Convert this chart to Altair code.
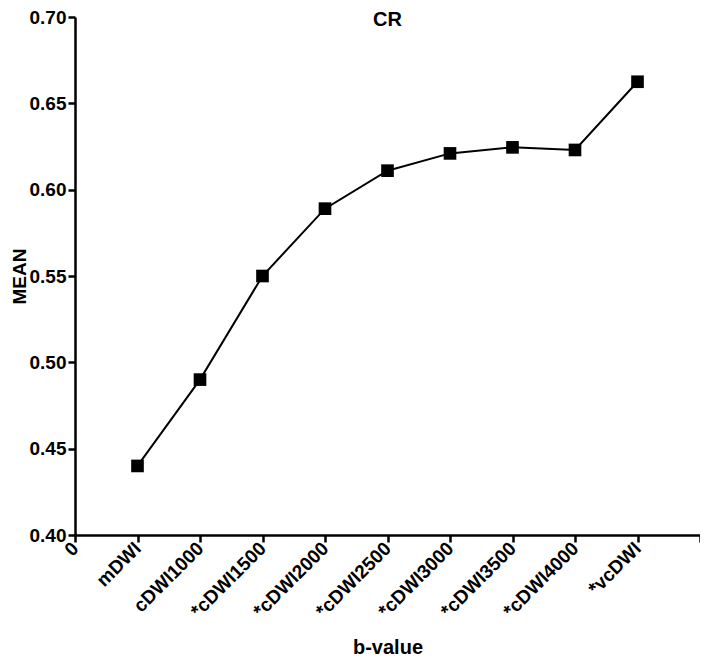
import altair as alt
import pandas as pd

categories = ["mDWI", "cDWI1000", "*cDWI1500", "*cDWI2000", "*cDWI2500",
              "*cDWI3000", "*cDWI3500", "*cDWI4000", "*vcDWI"]
positions = [1, 2, 3, 4, 5, 6, 7, 8, 9]
means = [0.440, 0.490, 0.550, 0.589, 0.611, 0.621, 0.6245, 0.623, 0.6625]
tick_labels = ["0"] + categories + [""]

df = pd.DataFrame({"pos": positions, "cat": categories, "mean": means})

label_js = "[" + ",".join('"%s"' % t for t in tick_labels) + "]"

FONT = "Liberation Sans"

x = alt.X("pos:Q", title="b-value",
          scale=alt.Scale(domain=[0, 10], nice=False, zero=False),
          axis=alt.Axis(values=list(range(11)),
                        labelExpr=label_js + "[datum.value]",
                        labelAngle=-45, labelAlign="right", labelBaseline="middle",
                        labelOverlap=False, labelBound=False, labelFlush=False,
                        labelFontSize=19,
                        labelPadding=3, titlePadding=17, grid=False, ticks=True,
                        tickSize=7, tickWidth=2.5, domainWidth=2.5,
                        domainColor="black", tickColor="black"))
y = alt.Y("mean:Q", title="MEAN",
          scale=alt.Scale(domain=[0.40, 0.70], nice=False, zero=False),
          axis=alt.Axis(values=[0.40, 0.45, 0.50, 0.55, 0.60, 0.65, 0.70],
                        format=".2f", grid=False, ticks=True, tickSize=7, tickWidth=2.5,
                        labelOverlap=False, labelFlush=False, labelFontSize=19,
                        domainWidth=2.5, domainColor="black", tickColor="black",
                        labelPadding=2, titlePadding=0, titleFontSize=19))

line = alt.Chart(df).mark_line(color="black", strokeWidth=2).encode(x=x, y=y)
pts = alt.Chart(df).mark_point(shape="square", filled=True, color="black",
                               size=160, opacity=1).encode(x=x, y=y)

chart = (line + pts).properties(
    width=625, height=518,
    title=alt.TitleParams("CR", fontSize=20, font=FONT, fontWeight="bold",
                          offset=-22, anchor="middle", color="black"),
    autosize=alt.AutoSizeParams(type="none"),
    padding={"left": 67, "top": 9, "right": 0, "bottom": 124},
).configure_view(stroke=None).configure_axis(
    labelFont=FONT, labelFontWeight="bold", labelColor="black",
    titleFont=FONT, titleFontSize=20, titleFontWeight="bold", titleColor="black",
)

chart.save("out.html", embed_options={"renderer": "svg", "actions": False})
